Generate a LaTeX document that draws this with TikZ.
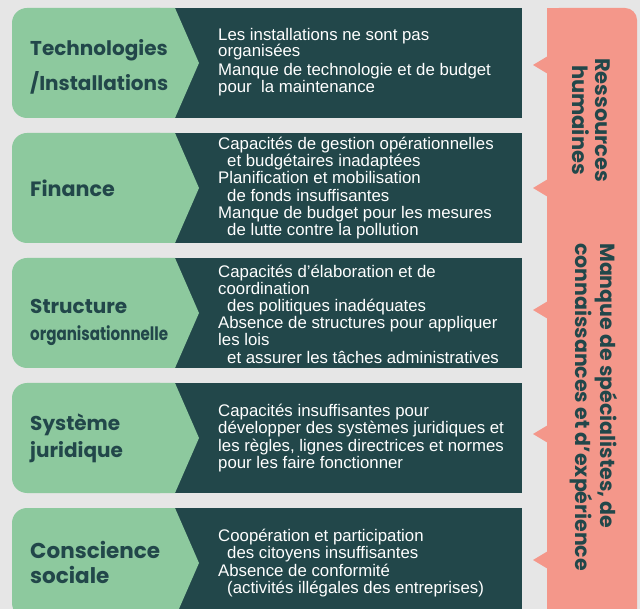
\documentclass[tikz,border=0pt]{standalone}
\usepackage{fontspec}
\usepackage{graphicx}
\setmainfont{Liberation Sans}
\newfontfamily\labelfont{Poppins}
\definecolor{bg}{HTML}{E6E6E6}
\definecolor{leaf}{HTML}{8DC99E}
\definecolor{deep}{HTML}{22474A}
\definecolor{salmon}{HTML}{F4978A}
\tikzset{
  desc/.style={anchor=west, inner sep=0pt, text=white, align=left,
    font=\fontsize{16.8}{17.2}\selectfont},
  lab/.style={anchor=west, inner sep=0pt, text=deep, align=left},
  sal/.style={inner sep=0pt, text=deep, rotate=-90,
    font=\labelfont\bfseries\fontsize{21}{23}\selectfont},
}
\newcommand{\ind}{\hspace*{9pt}}
\newcommand{\rowshape}[1]{%
  \fill[deep] (170,#1) rectangle (522,#1+110);
  \fill[leaf, rounded corners=15pt] (12,#1) rectangle (175,#1+110);
  \fill[leaf] (150,#1) -- (175,#1) -- (199,#1+55) -- (175,#1+110) -- (150,#1+110) -- cycle;
}
\begin{document}
\begin{tikzpicture}[x=1pt,y=-1pt]
\useasboundingbox (0,0) rectangle (640,609);
\fill[bg] (0,0) rectangle (640,609);
% rows
\rowshape{8}
\rowshape{133}
\rowshape{258}
\rowshape{383}
\rowshape{508}
% salmon panel
\fill[salmon, rounded corners=12pt] (547,8) rectangle (637,640);
\fill[salmon] (547,8) rectangle (580,40);
\foreach \c in {65,188,310,434,560}
  \fill[salmon] (548,\c-9) -- (533,\c) -- (548,\c+9) -- cycle;
% labels
\node[lab, font=\labelfont\bfseries\fontsize{20}{35}\selectfont] (l1) at (30,67) {Technologies\\/Installations};
\node[lab, font=\labelfont\bfseries\fontsize{20.7}{27}\selectfont] (l2) at (30,188) {Finance};
\node[lab, font=\labelfont\bfseries\fontsize{20}{27}\selectfont] (l3) at (30,322) {Structure\\\resizebox{138pt}{\height}{\fontsize{18.5}{20}\selectfont organisationnelle}};
\node[lab, font=\labelfont\bfseries\fontsize{20}{27}\selectfont] (l4) at (30,438) {Système\\juridique};
\node[lab, font=\labelfont\bfseries\fontsize{21.5}{25}\selectfont] (l5) at (30,562) {Conscience\\sociale};
% descriptions
\node[desc] (d1) at (218,62) {Les installations ne sont pas\\[-1pt]organisées\\[2pt]Manque de technologie et de budget\\pour\ \ la maintenance};
\node[desc] (d2) at (218,188) {Capacités de gestion opérationnelles\\\ind et budgétaires inadaptées\\Planification et mobilisation\\\ind de fonds insuffisantes\\Manque de budget pour les mesures\\\ind de lutte contre la pollution};
\node[desc] (d3) at (218,314) {Capacités d’élaboration et de\\coordination\\\ind des politiques inadéquates\\Absence de structures pour appliquer\\les lois\\\ind et assurer les tâches administratives};
\node[desc] (d4) at (218,438) {Capacités insuffisantes pour\\développer des systèmes juridiques et\\les règles, lignes directrices et normes\\pour les faire fonctionner};
\node[desc] (d5) at (218,563) {Coopération et participation\\\ind des citoyens insuffisantes\\Absence de conformité\\\ind (activités illégales des entreprises)};
% salmon texts
\node[sal, align=center] (s1) at (591,120) {Ressources\\humaines};
\node[sal, align=left, anchor=west, font=\labelfont\bfseries\fontsize{20.5}{25}\selectfont] (s2) at (594,243) {Manque de spécialistes, de\\connaissances et d’expérience};
\end{tikzpicture}
\end{document}
